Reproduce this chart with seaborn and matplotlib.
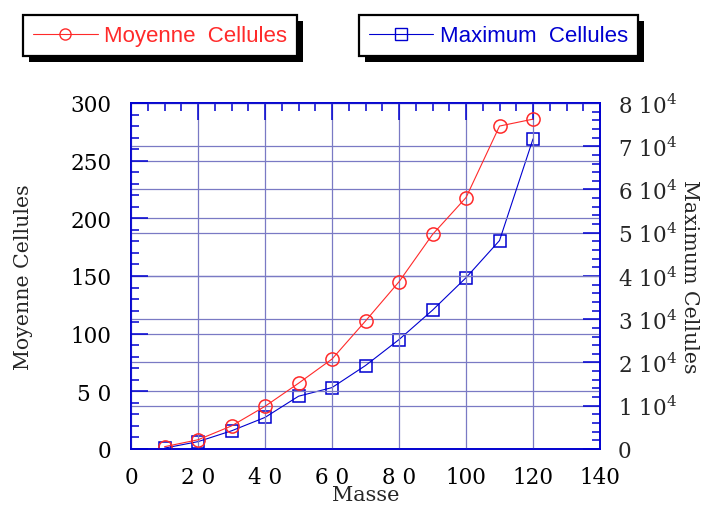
import numpy as np
import pandas as pd
import matplotlib
matplotlib.use("Agg")
import matplotlib.pyplot as plt
import seaborn as sns
from matplotlib.ticker import MultipleLocator, FixedLocator
from matplotlib.lines import Line2D
from matplotlib.patches import Rectangle

# donnees
masse = [10, 20, 30, 40, 50, 60, 70, 80, 90, 100, 110, 120]
moyenne = [2, 8, 20, 37, 57, 78, 111, 145, 186, 218, 280, 286]
maximum = [200, 1700, 4200, 7300, 12200, 14200, 19300, 25300, 32100, 39600, 48200, 71700]

xticks = [0, 20, 40, 60, 80, 100, 120, 140]
xlabels = ["0", "2 0", "4 0", "6 0", "8 0", "100", "120", "140"]
yticks = [0, 50, 100, 150, 200, 250, 300]
ylabels = ["0", "5 0", "100", "150", "200", "250", "300"]
y2ticks = [0, 10000, 20000, 30000, 40000, 50000, 60000, 70000, 80000]
y2labels = ["0"] + [f"{i} 10$^4$" for i in range(1, 9)]

sns.set_style("white")
plt.rcParams['font.family'] = ['DejaVu Serif']
plt.rcParams['mathtext.fontset'] = 'dejavuserif'

rouge = "#ff2a2a"
bleu = "#0000d0"
grille = "#7a7ac4"

df = pd.DataFrame({"masse": masse, "moyenne": moyenne, "maximum": maximum})

fig = plt.figure(figsize=(7.06, 5.06), dpi=100)
ax = fig.add_axes([0.1856, 0.1107, 0.6643, 0.6838])
ax2 = ax.twinx()
ax.set_zorder(ax2.get_zorder() + 1)
ax.patch.set_visible(False)

sns.lineplot(data=df, x="masse", y="maximum", ax=ax2, color=bleu, lw=0.8,
             marker="s", markersize=9, markerfacecolor="none",
             markeredgecolor=bleu, markeredgewidth=1.1)
sns.lineplot(data=df, x="masse", y="moyenne", ax=ax, color=rouge, lw=0.8,
             marker="o", markersize=9.5, markerfacecolor="none",
             markeredgecolor=rouge, markeredgewidth=1.1)

ax.set_xlim(0, 140)
ax.set_ylim(0, 300)
ax2.set_ylim(0, 80000)

ax.xaxis.set_major_locator(FixedLocator(xticks))
ax.set_xticklabels(xlabels)
ax.xaxis.set_minor_locator(MultipleLocator(5))
ax.yaxis.set_major_locator(FixedLocator(yticks))
ax.set_yticklabels(ylabels)
ax.yaxis.set_minor_locator(MultipleLocator(10))
ax2.yaxis.set_major_locator(FixedLocator(y2ticks))
ax2.set_yticklabels(y2labels)
ax2.yaxis.set_minor_locator(MultipleLocator(2000))

for a in (ax, ax2):
    a.grid(True, which="major", color=grille, lw=0.9)
    for s in a.spines.values():
        s.set_color(bleu)
        s.set_linewidth(1.2)
ax2.grid(False, axis="x")

ax.tick_params(axis="both", which="major", direction="in", length=12, width=1.1,
               color=bleu, labelsize=15.5, top=True, right=False, labelcolor="black")
ax.tick_params(axis="both", which="minor", direction="in", length=6, width=1.1,
               color=bleu, top=True, right=False)
ax.tick_params(axis="x", pad=12)
ax.tick_params(axis="y", pad=14)
ax2.tick_params(axis="y", which="major", direction="in", length=12, width=1.1,
                color=bleu, labelsize=15.5, pad=13)
ax2.tick_params(axis="y", which="minor", direction="in", length=6, width=1.1, color=bleu)

ax.set_xlabel("Masse", fontsize=15, labelpad=-2)
ax.set_ylabel("Moyenne Cellules", fontsize=14.8, labelpad=27)
ax2.set_ylabel("Maximum Cellules", fontsize=14.8, rotation=270, labelpad=16)

# legendes encadrees en haut
h1 = Line2D([], [], color=rouge, lw=0.8, marker="o", markersize=8,
            markerfacecolor="none", markeredgecolor=rouge)
h2 = Line2D([], [], color=bleu, lw=0.8, marker="s", markersize=8,
            markerfacecolor="none", markeredgecolor=bleu)
legs = []
for h, lab, c, xc in ((h1, "Moyenne  Cellules", rouge, 0.227),
                      (h2, "Maximum  Cellules", bleu, 0.706)):
    leg = fig.legend([h], [lab], loc="center", bbox_to_anchor=(xc, 0.927),
                     frameon=True, fancybox=False, edgecolor="black",
                     facecolor="white", framealpha=1,
                     handlelength=2.9, handletextpad=0.3, borderpad=0.45,
                     prop={"family": "Liberation Sans", "size": 16})
    leg.get_frame().set_linewidth(1.6)
    for t in leg.get_texts():
        t.set_color(c)
    legs.append(leg)

# ombre noire decalee sous chaque legende
fig.canvas.draw()
for leg in legs:
    bb = leg.get_frame().get_window_extent()
    fig.patches.append(Rectangle((bb.x0 + 6, bb.y0 - 6), bb.width, bb.height,
                                 transform=None, facecolor="black",
                                 edgecolor="none", zorder=4, figure=fig))

fig.savefig("out.png", dpi=100)
